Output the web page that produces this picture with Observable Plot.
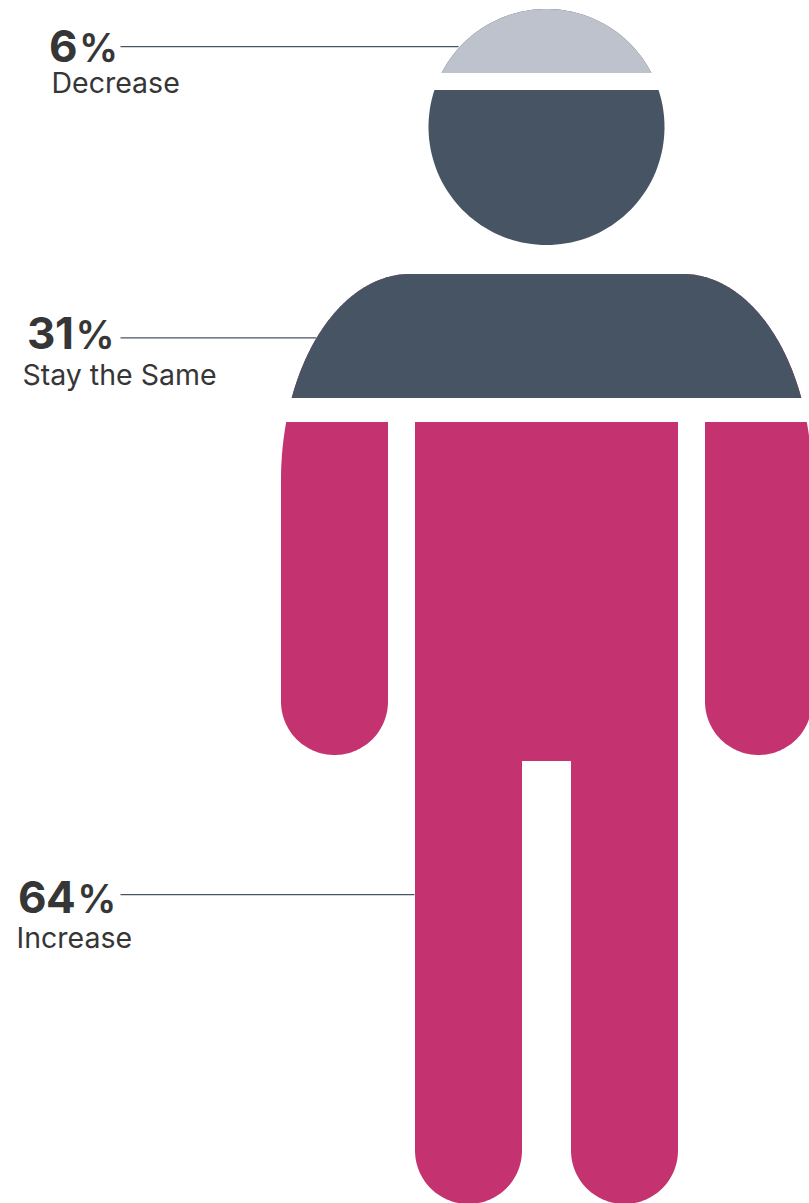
<!DOCTYPE html>
<html>
<head>
<meta charset="utf-8">
<title>Expected change</title>
<style>
  html, body { margin: 0; padding: 0; background: #fff; overflow: hidden; }
  svg { display: block; }
</style>
<script src="https://cdn.jsdelivr.net/npm/d3@7"></script>
<script src="https://cdn.jsdelivr.net/npm/@observablehq/plot@0.6"></script>
</head>
<body>
<div id="chart"></div>
<script>
// Survey answers, listed from the head of the figure down to its feet.
const answers = ["Decrease", "Stay the Same", "Increase"];
const shares = [6, 31, 64];
const bandColors = ["#bdc2cc", "#475464", "#c43370"];

// Figure units for each answer: where its label sits and where its leader ends.
const leaderRowY = [46.6, 337.8, 894.6];
const leaderEndX = [459, 317, 415];
const shareLabelX = [49, 27, 18];
const shareLabelY = [48, 335, 899];
const answerLabelX = [51.5, 22.5, 16.5];
const answerLabelY = [84, 376, 939];

// Person silhouette measurements, in figure units.
const axisX = 546.5;
const head = {cy: 127, r: 118, capBottom: 73, faceTop: 90};
const shoulder = {top: 274, bottom: 398, flatFromX: 410, curveY: 480, rx: 129, ry: 206};
const limbs = {top: 422, armOuterX: 281, armInnerX: 388, armEndY: 755, legOuterX: 415, legInnerX: 522, crotchY: 761, footY: 1204};

const limbR = (limbs.armInnerX - limbs.armOuterX) / 2;
const mirror = (x) => 2 * axisX - x;

// Sweep an elliptical arc between two angles (degrees, clockwise from east).
function arc(cx, cy, rx, ry, from, to, steps = 90) {
  return d3.range(steps + 1).map((i) => {
    const a = ((from + ((to - from) * i) / steps) * Math.PI) / 180;
    return [cx + rx * Math.cos(a), cy + ry * Math.sin(a)];
  });
}

const deg = (v) => (v * 180) / Math.PI;

// Head pieces: the circle cut by a horizontal chord.
const capAngle = deg(Math.asin((head.cy - head.capBottom) / head.r));
const faceAngle = deg(Math.asin((head.cy - head.faceTop) / head.r));
const capOutline = arc(axisX, head.cy, head.r, head.r, -180 + capAngle, -capAngle);
const faceOutline = arc(axisX, head.cy, head.r, head.r, -faceAngle, 180 + faceAngle);

// Shoulders: elliptical corners stopped at the bottom of the band.
const shoulderAngle = deg(Math.asin((shoulder.curveY - shoulder.bottom) / shoulder.ry));
const leftShoulder = arc(shoulder.flatFromX, shoulder.curveY, shoulder.rx, shoulder.ry, 180 + shoulderAngle, 270);
const shoulderOutline = [...leftShoulder, ...leftShoulder.map(([x, y]) => [mirror(x), y]).reverse()];

// Arm: shoulder curve continued down the outer side, then a rounded hand.
const armAngle = deg(Math.asin((shoulder.curveY - limbs.top) / shoulder.ry));
const leftArm = [
  [limbs.armInnerX, limbs.top],
  ...arc(shoulder.flatFromX, shoulder.curveY, shoulder.rx, shoulder.ry, 180 + armAngle, 180, 30),
  ...arc(limbs.armOuterX + limbR, limbs.armEndY - limbR, limbR, limbR, 180, 0)
];
const rightArm = leftArm.map(([x, y]) => [mirror(x), y]);

// Trunk and the two rounded legs.
const legR = (limbs.legInnerX - limbs.legOuterX) / 2;
const leftFoot = arc(limbs.legOuterX + legR, limbs.footY - legR, legR, legR, 0, 180);
const lowerBody = [
  [limbs.legOuterX, limbs.top],
  [mirror(limbs.legOuterX), limbs.top],
  ...leftFoot.map(([x, y]) => [mirror(x), y]).reverse(),
  [mirror(limbs.legInnerX), limbs.crotchY],
  [limbs.legInnerX, limbs.crotchY],
  ...leftFoot
];

// Each piece is drawn in its band colour; some sit on a faint underlay
// so that their curved edges keep a thin tint of the neighbouring band.
const pieces = [
  {name: "cap-under", band: 1, outline: capOutline},
  {name: "cap", band: 0, outline: capOutline},
  {name: "face", band: 1, outline: faceOutline},
  {name: "shoulder-under", band: 2, outline: shoulderOutline},
  {name: "shoulder", band: 1, outline: shoulderOutline},
  {name: "arm-left", band: 2, outline: leftArm},
  {name: "arm-right", band: 2, outline: rightArm},
  {name: "body", band: 2, outline: lowerBody}
];

const outlineRows = pieces.flatMap((p) =>
  p.outline.map(([x, y]) => ({x, y, piece: p.name, color: bandColors[p.band]}))
);

const rows = answers.map((answer, i) => ({
  answer,
  share: `${shares[i]}%`,
  rowY: leaderRowY[i],
  endX: leaderEndX[i],
  shareX: shareLabelX[i],
  shareY: shareLabelY[i],
  answerX: answerLabelX[i],
  answerY: answerLabelY[i]
}));

// The percent sign is set lighter and narrower than the digits,
// inside the same text element.
function lightenPercent(index, scales, values, dimensions, context, next) {
  const g = next(index, scales, values, dimensions, context);
  d3.select(g).selectAll("text").each(function () {
    const label = this.textContent;
    const digits = label.slice(0, -1);
    const text = d3.select(this).text(digits).style("letter-spacing", "-0.5px");
    text.append("tspan").attr("font-weight", 600).attr("font-size", 39).attr("dx", 2).text("%");
  });
  return g;
}

const chart = Plot.plot({
  width: 809,
  height: 1203,
  margin: 0,
  style: {background: "#fff", fontFamily: "Inter, sans-serif"},
  // Plot nudges marks by half a pixel; the ranges take that back out.
  x: {axis: null, domain: [0, 809], range: [-0.5, 808.5]},
  y: {axis: null, domain: [0, 1203], range: [-0.5, 1202.5]},
  marks: [
    Plot.ruleY(rows, {y: "rowY", x1: 121, x2: "endX", stroke: "#475464", strokeWidth: 1.2}),
    Plot.line(outlineRows, {
      x: "x",
      y: "y",
      z: "piece",
      fill: "color",
      stroke: "none",
      clip: "frame"
    }),
    Plot.text(rows, {
      x: "shareX",
      y: "shareY",
      text: "share",
      textAnchor: "start",
      fontSize: 44,
      fontWeight: 700,
      fill: "#363636",
      render: lightenPercent
    }),
    Plot.text(rows, {
      x: "answerX",
      y: "answerY",
      text: "answer",
      textAnchor: "start",
      fontSize: 28.5,
      fill: "#363636"
    })
  ]
});

document.getElementById("chart").append(chart);
</script>
</body>
</html>
